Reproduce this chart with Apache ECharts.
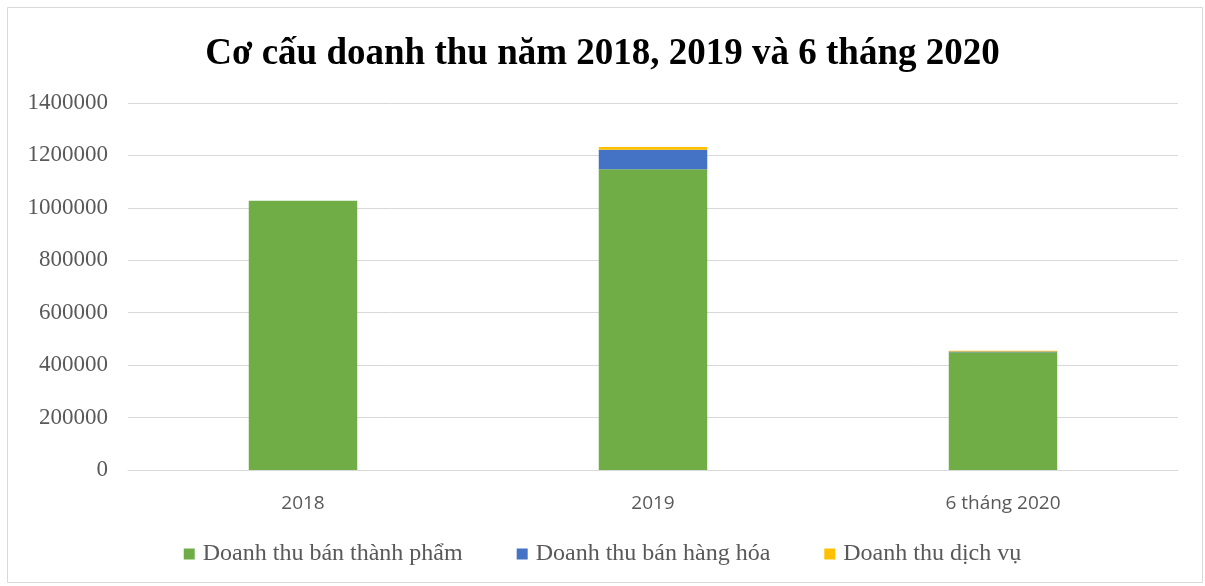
<!DOCTYPE html>
<html><head><meta charset="utf-8">
<script src="https://cdn.jsdelivr.net/npm/echarts@6/dist/echarts.min.js"></script>
<style>html,body{margin:0;padding:0;background:#fff}#c{width:1205px;height:586px}</style>
</head><body><div id="c"></div>
<script>
var categories = ['2018', '2019', '6 tháng 2020'];
var seriesNames = ['Doanh thu bán thành phẩm', 'Doanh thu bán hàng hóa', 'Doanh thu dịch vụ'];
var thanhPham = [1027000, 1147000, 449000];
var hangHoa = [0, 75000, 3500];
var dichVu = [0, 10000, 2000];
var yTicks = [0, 200000, 400000, 600000, 800000, 1000000, 1200000, 1400000];
var colors = ['#70AD47', '#4472C4', '#FFC000'];

var chart = echarts.init(document.getElementById('c'));
var dataSets = [thanhPham, hangHoa, dichVu];
chart.setOption({
  animation: false,
  title: {
    text: 'Cơ cấu doanh thu năm 2018, 2019 và 6 tháng 2020',
    left: 'center', top: 31,
    textStyle: {fontFamily: 'Liberation Serif', fontWeight: 'bold', fontSize: 37, color: '#000'}
  },
  graphic: [{type: 'rect', shape: {x: 7.5, y: 7.5, width: 1195, height: 575},
    style: {fill: 'none', stroke: '#d9d9d9', lineWidth: 1}, silent: true}],
  legend: {
    bottom: 15, left: 'center', itemWidth: 11, itemHeight: 11, itemGap: 54,
    icon: 'rect',
    textStyle: {fontFamily: 'Liberation Serif', fontSize: 24, color: '#595959', padding: [0, 0, 0, 3]},
    data: seriesNames
  },
  grid: {left: 128, right: 27, top: 103, bottom: 116},
  xAxis: {
    type: 'category', data: categories,
    axisLine: {lineStyle: {color: '#d9d9d9'}},
    axisTick: {show: false},
    axisLabel: {fontFamily: 'Open Sans', fontSize: 19, color: '#595959', margin: 24}
  },
  yAxis: {
    type: 'value', min: 0, max: 1400000, interval: 200000,
    axisLine: {show: false}, axisTick: {show: false},
    splitLine: {lineStyle: {color: '#d9d9d9', width: 1}},
    axisLabel: {fontFamily: 'Liberation Serif', fontSize: 23, color: '#595959', margin: 20,
      formatter: function (v) { return yTicks.indexOf(v) >= 0 ? String(v) : ''; }}
  },
  series: seriesNames.map(function (n, i) {
    return {name: n, type: 'bar', stack: 'total', data: dataSets[i], barWidth: '31%',
      itemStyle: {color: colors[i]}};
  })
});
</script></body></html>
